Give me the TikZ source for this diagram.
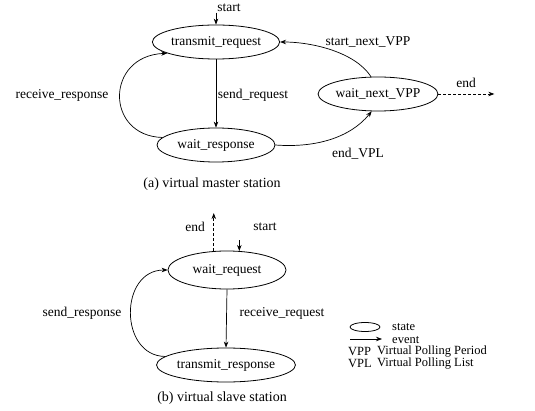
\documentclass[tikz,border=0pt]{standalone}
\usepackage{fontspec}
\setmainfont{Liberation Serif}
\usetikzlibrary{calc,arrows.meta,shapes.geometric}
\begin{document}
\begin{tikzpicture}[x=1pt,y=-1pt,
  lbl/.style={font=\fontsize{13.5}{15}\selectfont, inner sep=1pt},
  leg/.style={font=\fontsize{12.5}{14}\selectfont, inner sep=1pt, anchor=west},
  captext/.style={font=\fontsize{14}{16}\selectfont, inner sep=1pt},
  st/.style={draw, ellipse, line width=0.8pt, minimum width=118pt, minimum height=34pt, inner sep=0pt, font=\fontsize{13.5}{15}\selectfont},
  arr/.style={line width=0.7pt, -{Stealth[length=6pt,width=4.5pt]}},
  darr/.style={arr, dashed, dash pattern=on 3pt off 2pt}
]
\useasboundingbox (0,0) rectangle (535,411);

% (a) virtual master station
\node[st] (tr) at (216,42) {transmit\_request};
\node[st] (wr) at (216,145) {wait\_response};
\node[st] (wn) at (378,94) {wait\_next\_VPP};

\coordinate (s1) at ($(tr.north)+(0,-12)$);
\draw[arr] (s1) -- (tr.north);
\node[lbl] (ls1) at (229,8) {start};

\draw[arr] (tr.south) -- (wr.north);
\node[lbl] (lsr) at (253,95) {send\_request};

\draw[arr] (wr.172) .. controls (105,136) and (105,56) .. (tr.193);
\node[lbl] (lrr) at (62,95) {receive\_response};

\draw[arr] (wn.112) .. controls (355,52) and (312,42) .. (tr.east);
\node[lbl] (lsn) at (368,42) {start\_next\_VPP};

\draw[arr] (wr.east) .. controls (315,148) and (350,138) .. (wn.250);
\node[lbl] (lev) at (358,154) {end\_VPL};

\coordinate (e1) at ($(wn.east)+(56,0)$);
\draw[darr] (wn.east) -- (e1);
\node[lbl] (le1) at (466,83) {end};

\node[captext] (ca) at (212,184) {(a) virtual master station};

% (b) virtual slave station
\node[st, minimum height=38pt] (wq) at (227,270) {wait\_request};
\node[st, minimum width=116pt] (ts) at (226,365) {transmit\_response};

\coordinate (e2) at ($(wq.125)+(0,-38)$);
\draw[darr] (wq.125) -- (e2);
\node[lbl] (le2) at (195,227) {end};

\coordinate (s2) at ($(wq.57)+(0,-11)$);
\draw[arr] (s2) -- (wq.57);
\node[lbl] (ls2) at (265,227) {start};

\draw[arr] (wq.south) -- (ts.north);
\node[lbl] (lrq) at (282,313) {receive\_request};

\draw[arr] (ts.172) .. controls (119,356) and (119,270) .. (wq.west);
\node[lbl] (lsp) at (82,313) {send\_response};

\node[captext] (cb) at (222,398) {(b) virtual slave station};

% legend
\node[draw, ellipse, line width=0.8pt, minimum width=30pt, minimum height=9pt, inner sep=0pt] (lgs) at (365,327) {};
\node[leg] (lgst) at (391,327) {state};
\coordinate (lga) at (350,339);
\coordinate (lgb) at (382,339);
\draw[arr] (lga) -- (lgb);
\node[leg] (lgev) at (391,340) {event};
\node[leg] (lvpp) at (347,352) {VPP};
\node[leg] (lvppt) at (376,352) {Virtual Polling Period};
\node[leg] (lvpl) at (347,364) {VPL};
\node[leg] (lvplt) at (376,364) {Virtual Polling List};
\end{tikzpicture}
\end{document}
